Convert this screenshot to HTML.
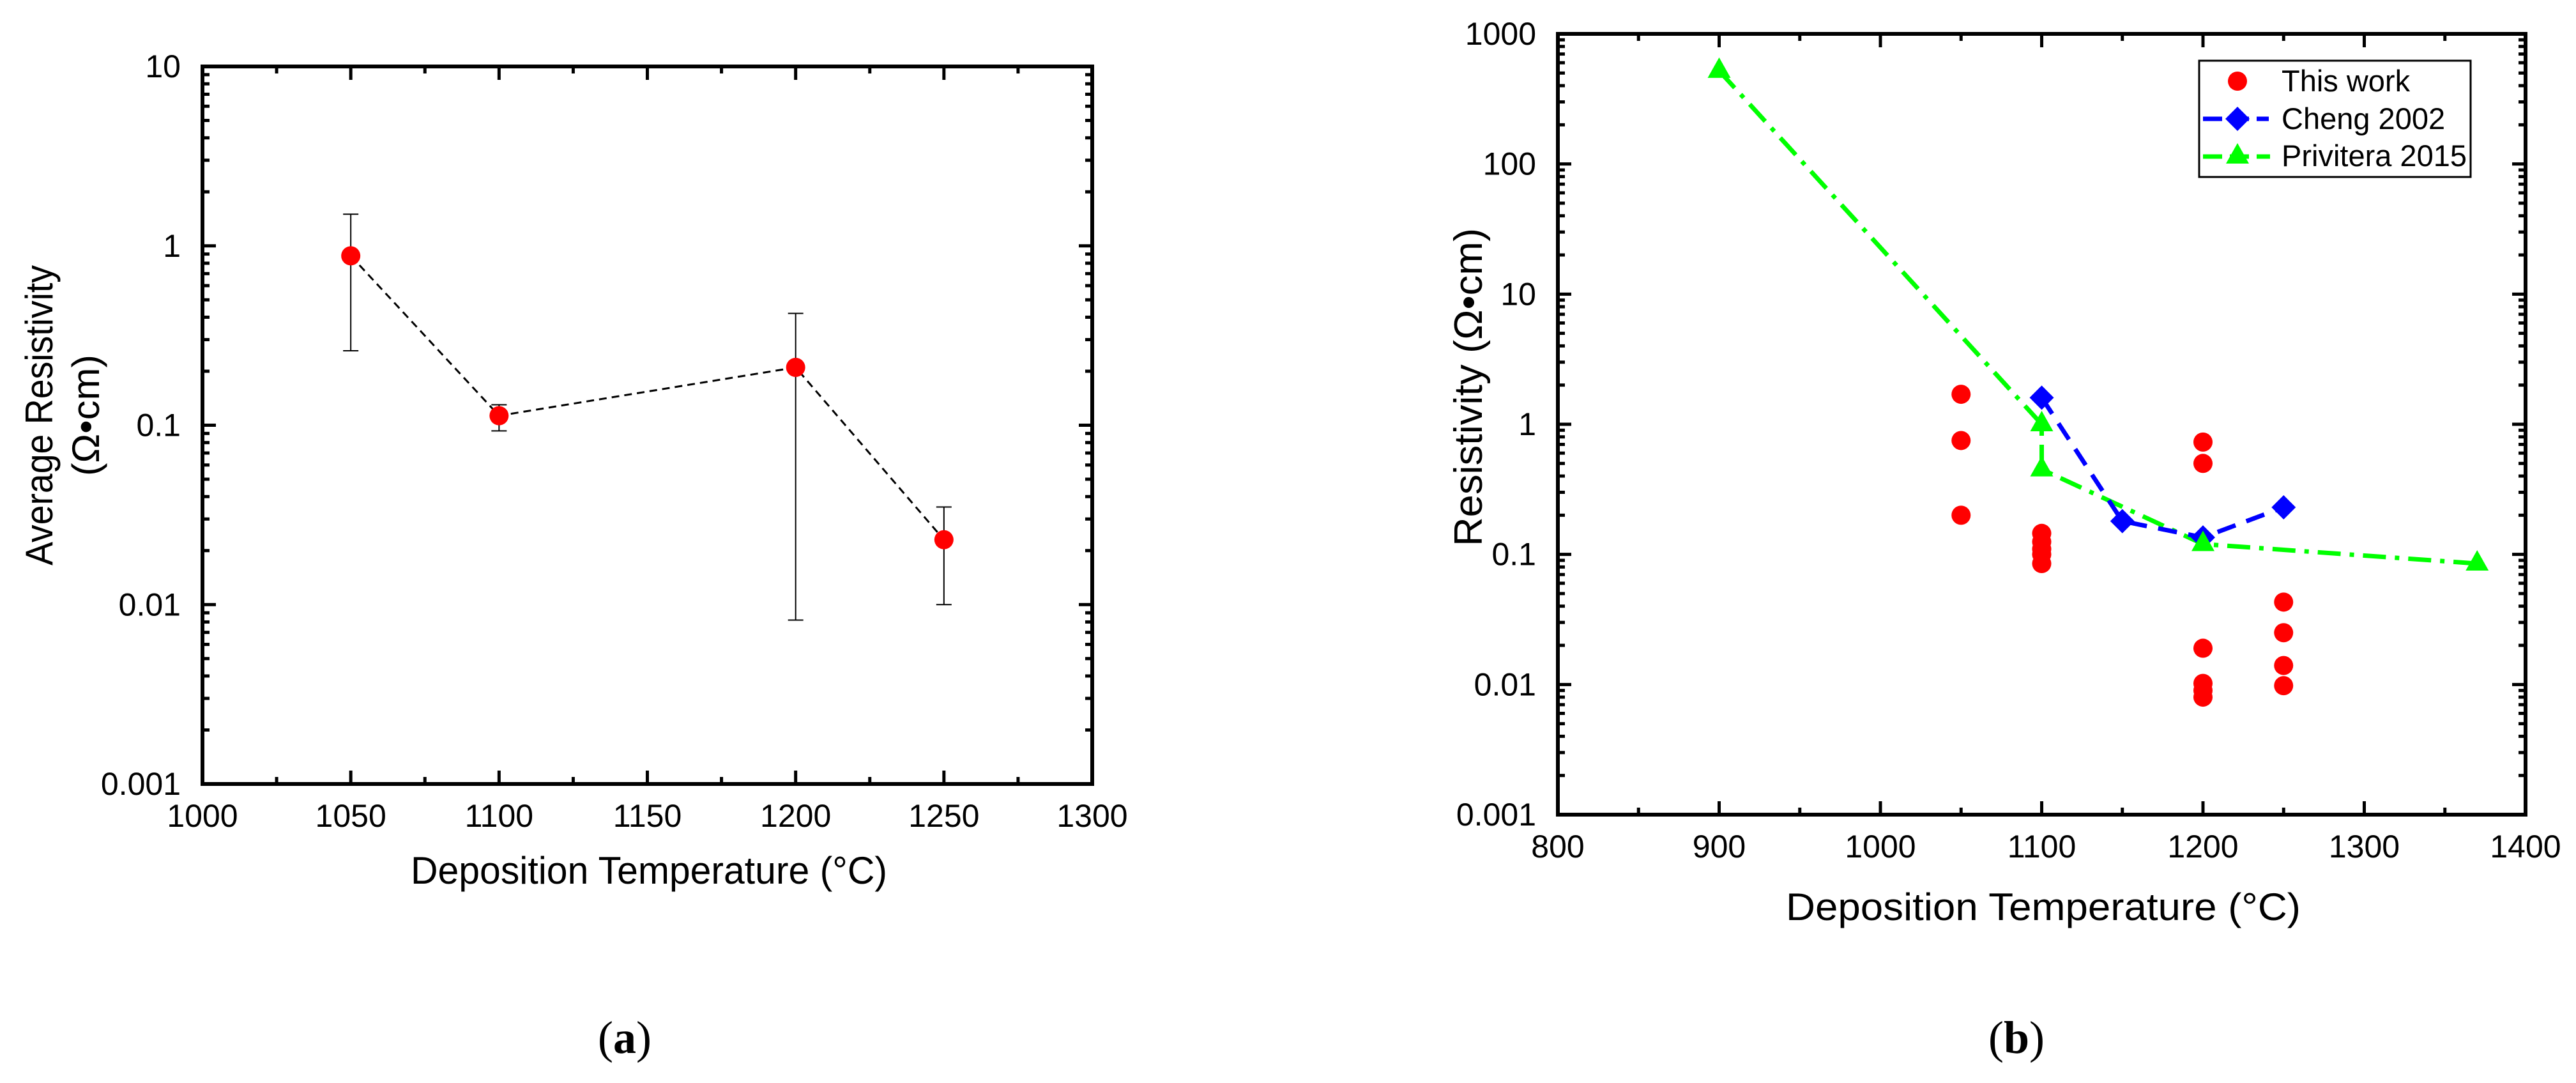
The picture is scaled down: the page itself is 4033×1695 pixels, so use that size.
<!DOCTYPE html>
<html><head><meta charset="utf-8"><style>
html,body{margin:0;padding:0;background:#fff}
svg{display:block}
text{font-family:"Liberation Sans",Arial,sans-serif;fill:#000}
</style></head><body>
<svg id="fig" width="4033" height="1695" viewBox="0 0 4033 1695" xmlns="http://www.w3.org/2000/svg">
<rect x="0" y="0" width="4033" height="1695" fill="#fff"/>
<g id="pa"></g>
<g id="pb"></g>
<text x="82" y="650" font-size="60" text-anchor="middle" transform="rotate(-90 82 650)" textLength="470" lengthAdjust="spacingAndGlyphs">Average Resistivity</text>
<text x="155" y="650" font-size="60" text-anchor="middle" transform="rotate(-90 155 650)" textLength="190" lengthAdjust="spacingAndGlyphs">(Ω•cm)</text>
<text x="1016" y="1383" font-size="60" text-anchor="middle" textLength="746" lengthAdjust="spacingAndGlyphs">Deposition Temperature (°C)</text>
<text x="2320" y="606" font-size="62" text-anchor="middle" transform="rotate(-90 2320 606)" textLength="498" lengthAdjust="spacingAndGlyphs">Resistivity (Ω•cm)</text>
<text x="3199" y="1440" font-size="60" text-anchor="middle" textLength="806" lengthAdjust="spacingAndGlyphs">Deposition Temperature (°C)</text>
<text x="978" y="1648" font-size="72" text-anchor="middle" style="font-family:'Liberation Serif',serif">(<tspan font-weight="bold">a</tspan>)</text>
<text x="3157" y="1648" font-size="72" text-anchor="middle" style="font-family:'Liberation Serif',serif">(<tspan font-weight="bold">b</tspan>)</text>
<g>
<rect x="3443" y="95" width="425" height="182" fill="#fff" stroke="#000" stroke-width="3"/>
<circle cx="3503" cy="127" r="15" fill="#ff0000"/>
<text x="3572" y="143" font-size="47">This work</text>
<line x1="3449" y1="186" x2="3552" y2="186" stroke="#0000ff" stroke-width="7" stroke-dasharray="30,12"/>
<polygon points="3503,167 3522,186 3503,205 3484,186" fill="#0000ff"/>
<text x="3572" y="202" font-size="47">Cheng 2002</text>
<line x1="3449" y1="245" x2="3554" y2="245" stroke="#00ff00" stroke-width="7" stroke-dasharray="30,12"/>
<polygon points="3503,224 3521,256 3485,256" fill="#00ff00"/>
<text x="3572" y="260" font-size="47">Privitera 2015</text>
</g>
</svg>
<script>
// ---- Chart (a) data ----
const aTemps = [1050, 1100, 1200, 1250];
const aMeans = [0.88, 0.113, 0.21, 0.023];
const aErrLow = [0.26, 0.093, 0.0082, 0.010];
const aErrHigh = [1.5, 0.13, 0.42, 0.035];
const aXTicks = [1000, 1050, 1100, 1150, 1200, 1250, 1300];
const aYTicks = [0.001, 0.01, 0.1, 1, 10];
const aYTickLabels = ["0.001", "0.01", "0.1", "1", "10"];
// ---- Chart (b) data ----
const bWorkT = [1050,1050,1050,1100,1100,1100,1100,1100,1200,1200,1200,1200,1200,1200,1250,1250,1250,1250];
const bWorkR = [1.7,0.75,0.2,0.145,0.125,0.11,0.1,0.085,0.73,0.5,0.019,0.0102,0.009,0.008,0.043,0.025,0.014,0.0098];
const bChengT = [1100, 1150, 1200, 1250];
const bChengR = [1.6, 0.18, 0.135, 0.23];
const bPrivT = [900, 1100, 1100, 1200, 1370];
const bPrivR = [520, 1.0, 0.45, 0.12, 0.085];
const bXTicks = [800, 900, 1000, 1100, 1200, 1300, 1400];
const bYTicks = [0.001, 0.01, 0.1, 1, 10, 100, 1000];
const bYTickLabels = ["0.001", "0.01", "0.1", "1", "10", "100", "1000"];

const NS = "http://www.w3.org/2000/svg";
function mk(parent, tag, attrs) {
  const e = document.createElementNS(NS, tag);
  for (const k in attrs) e.setAttribute(k, attrs[k]);
  parent.appendChild(e);
  return e;
}
function axes(g, L, T, R, B, xmin, xmax, ymin, ymax, xTicks, xMinorStep, yTicks, yLabels, prefix) {
  const sx = v => L + (v - xmin) / (xmax - xmin) * (R - L);
  const sy = v => B - (Math.log10(v) - Math.log10(ymin)) / (Math.log10(ymax) - Math.log10(ymin)) * (B - T);
  // minor x ticks
  for (let v = xmin; v <= xmax + 0.001; v += xMinorStep) {
    const major = xTicks.indexOf(v) >= 0;
    const len = major ? 21 : 11;
    const t1 = mk(g, "line", {x1: sx(v), y1: B, x2: sx(v), y2: B - len, stroke: "#000", "stroke-width": 5});
    
    
    const t2 = mk(g, "line", {x1: sx(v), y1: T, x2: sx(v), y2: T + len, stroke: "#000", "stroke-width": 5});
    
    
  }
  xTicks.forEach(v => {
    const t = mk(g, "text", {x: sx(v), y: B + 67, "font-size": 50, "text-anchor": "middle"});
    t.textContent = String(v);
    
    
  });
  // y ticks (log)
  const d0 = Math.round(Math.log10(ymin)), d1 = Math.round(Math.log10(ymax));
  for (let d = d0; d <= d1; d++) {
    for (let m = 1; m <= 9; m++) {
      if (d === d1 && m > 1) break;
      const v = m * Math.pow(10, d);
      const len = m === 1 ? 21 : 11;
      const y = sy(v);
      const a = mk(g, "line", {x1: L, y1: y, x2: L + len, y2: y, stroke: "#000", "stroke-width": 5});
      
      
      const b = mk(g, "line", {x1: R, y1: y, x2: R - len, y2: y, stroke: "#000", "stroke-width": 5});
      
      
    }
  }
  yTicks.forEach((v, i) => {
    const t = mk(g, "text", {x: L - 34, y: sy(v) + 17, "font-size": 50, "text-anchor": "end"});
    t.textContent = yLabels[i];
    
    
  });
  const f = mk(g, "rect", {x: L, y: T, width: R - L, height: B - T, fill: "none", stroke: "#000", "stroke-width": 6});
  
  
  return {sx, sy};
}

// Chart a
const ga = document.getElementById("pa");
const A = axes(ga, 317, 104, 1710, 1227, 1000, 1300, 0.001, 10, aXTicks, 25, aYTicks, aYTickLabels, "a");
aTemps.forEach((t, i) => {
  const x = A.sx(t);
  const e = mk(ga, "line", {x1: x, y1: A.sy(aErrLow[i]), x2: x, y2: A.sy(aErrHigh[i]), stroke: "#000", "stroke-width": 2});
  
  
  [aErrLow[i], aErrHigh[i]].forEach(v => {
    const c = mk(ga, "line", {x1: x - 12, y1: A.sy(v), x2: x + 12, y2: A.sy(v), stroke: "#000", "stroke-width": 2});
    
    
  });
});
const aLine = mk(ga, "polyline", {points: aTemps.map((t, i) => A.sx(t) + "," + A.sy(aMeans[i])).join(" "), fill: "none", stroke: "#000", "stroke-width": 3, "stroke-dasharray": "12,8"});


aTemps.forEach((t, i) => {
  const c = mk(ga, "circle", {cx: A.sx(t), cy: A.sy(aMeans[i]), r: 15, fill: "#ff0000"});
  
  
});

// Chart b
const gb = document.getElementById("pb");
const Bx = axes(gb, 2439, 53, 3954, 1275, 800, 1400, 0.001, 1000, bXTicks, 50, bYTicks, bYTickLabels, "b");
const pl = mk(gb, "polyline", {points: bPrivT.map((t, i) => Bx.sx(t) + "," + Bx.sy(bPrivR[i])).join(" "), fill: "none", stroke: "#00ff00", "stroke-width": 7, "stroke-dasharray": "36,14,7,14"});


const cl = mk(gb, "polyline", {points: bChengT.map((t, i) => Bx.sx(t) + "," + Bx.sy(bChengR[i])).join(" "), fill: "none", stroke: "#0000ff", "stroke-width": 7, "stroke-dasharray": "30,18"});


bWorkT.forEach((t, i) => {
  const c = mk(gb, "circle", {cx: Bx.sx(t), cy: Bx.sy(bWorkR[i]), r: 15, fill: "#ff0000"});
  
  
});
bChengT.forEach((t, i) => {
  const x = Bx.sx(t), y = Bx.sy(bChengR[i]);
  const p = mk(gb, "polygon", {points: `${x},${y-19} ${x+19},${y} ${x},${y+19} ${x-19},${y}`, fill: "#0000ff"});
  
  
});
bPrivT.forEach((t, i) => {
  const x = Bx.sx(t), y = Bx.sy(bPrivR[i]);
  const p = mk(gb, "polygon", {points: `${x},${y-21} ${x+18},${y+11} ${x-18},${y+11}`, fill: "#00ff00"});
  
  
});
</script>
</body></html>
